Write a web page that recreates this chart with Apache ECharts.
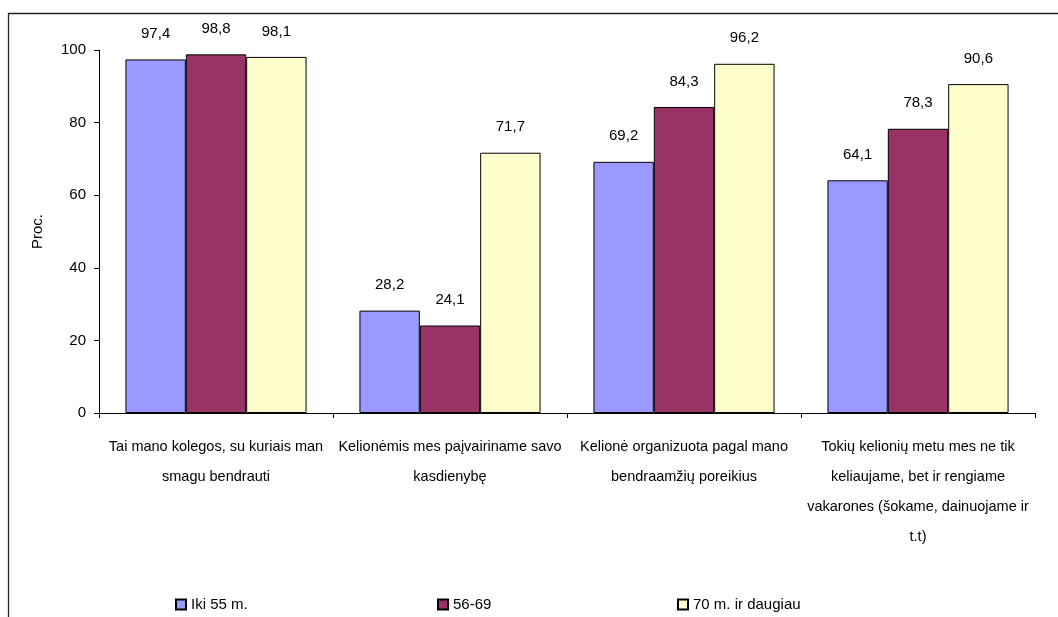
<!DOCTYPE html>
<html><head><meta charset="utf-8">
<script src="https://cdn.jsdelivr.net/npm/echarts@6/dist/echarts.min.js"></script>
<style>html,body{margin:0;padding:0;background:#fff}#c{width:1058px;height:617px}</style>
</head><body><div id="c"></div>
<script>
const categories = [
  "Tai mano kolegos, su kuriais man\nsmagu bendrauti",
  "Kelionėmis mes paįvairiname savo\nkasdienybę",
  "Kelionė organizuota pagal mano\nbendraamžių poreikius",
  "Tokių kelionių metu mes ne tik\nkeliaujame, bet ir rengiame\nvakarones (šokame, dainuojame ir\nt.t)"
];
const seriesNames = ["Iki 55 m.", "56-69", "70 m. ir daugiau"];
const iki55 = [97.4, 28.2, 69.2, 64.1];
const m5669 = [98.8, 24.1, 84.3, 78.3];
const m70 = [98.1, 71.7, 96.2, 90.6];
const yTicks = [0, 20, 40, 60, 80, 100];

const FONT = '"Liberation Sans Narrow", "Arial Narrow", "Liberation Sans", Arial, sans-serif';
const colors = ["#9999FF", "#993366", "#FFFFCC"];
const values = [iki55, m5669, m70];

const chart = echarts.init(document.getElementById('c'), null, {renderer: 'canvas'});
const legendX = [170, 432, 672];
chart.setOption({
  animation: false,
  backgroundColor: '#fff',
  graphic: [{
    type: 'rect', silent: true, z: -1,
    shape: {x: 8.5, y: 13.5, width: 1200, height: 800},
    style: {fill: 'none', stroke: '#222', lineWidth: 1.3}
  }],
  grid: {left: 99, right: 23, top: 50, bottom: 204, containLabel: false},
  legend: seriesNames.map((n, i) => ({
    data: [n], left: legendX[i], top: 592, itemWidth: 10, itemHeight: 10, itemGap: 5,
    icon: 'rect', selectedMode: false,
    textStyle: {fontFamily: FONT, fontSize: 15, color: '#000', padding: [0,0,0,0]}
  })),
  xAxis: {
    type: 'category', data: categories,
    axisLine: {lineStyle: {color: '#000', width: 1}},
    axisTick: {show: true, length: 5, lineStyle: {color: '#000'}},
    axisLabel: {fontFamily: FONT, fontSize: 14.5, color: '#000', lineHeight: 30, margin: 19, interval: 0}
  },
  yAxis: {
    type: 'value', min: 0, max: 100, interval: 20,
    name: 'Proc.', nameLocation: 'middle', nameGap: 54, nameRotate: 90,
    nameTextStyle: {fontFamily: FONT, fontSize: 15, color: '#000'},
    axisLine: {show: true, lineStyle: {color: '#000', width: 1}},
    axisTick: {show: true, length: 5, lineStyle: {color: '#000'}},
    splitLine: {show: false},
    axisLabel: {fontFamily: FONT, fontSize: 15, color: '#000', margin: 13,
      formatter: v => yTicks.includes(v) ? String(v) : ''}
  },
  series: seriesNames.map((n, i) => ({
    name: n, type: 'bar', data: values[i],
    barGap: '0%', barCategoryGap: '22.6%',
    itemStyle: {color: colors[i], borderColor: '#000', borderWidth: 1},
    label: {show: true, position: 'top', distance: 18, fontFamily: FONT, fontSize: 15, color: '#000',
      formatter: p => String(p.value).replace('.', ',')}
  }))
});
</script></body></html>
